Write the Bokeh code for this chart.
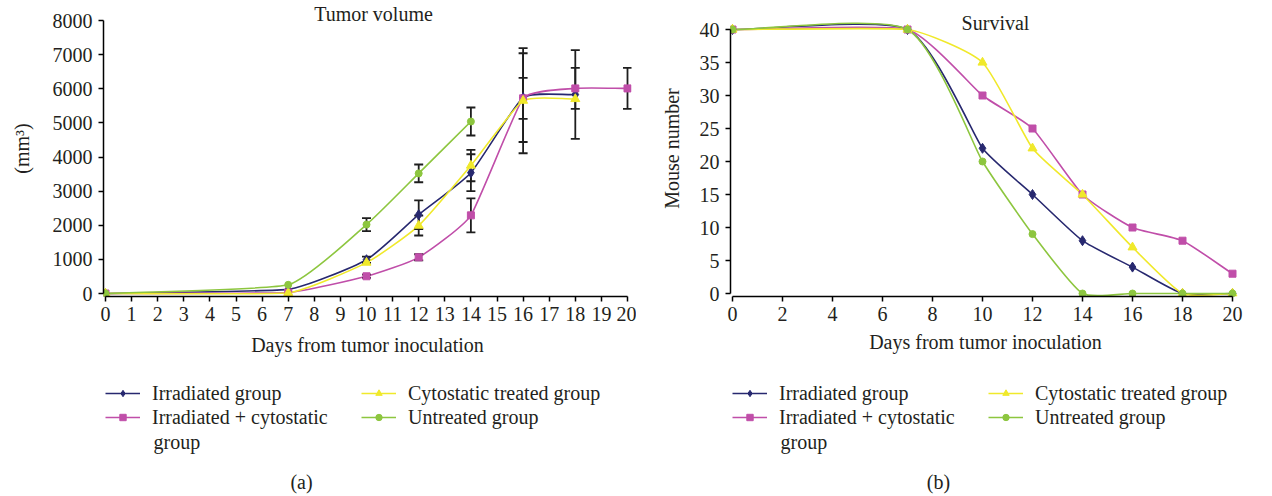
import math
from bokeh.plotting import figure
from bokeh.models import Range1d, FixedTicker, Legend, LegendItem, Label, ColumnDataSource
from bokeh.layouts import row, column
from bokeh.embed import file_html
from bokeh.resources import INLINE

FONT = "Liberation Serif"
FS = "20px"
TXT = "#231f20"

# ---------------- data ----------------
series_names = ["Irradiated group", "Irradiated + cytostatic",
                "Cytostatic treated group", "Untreated group"]
name_wrap = "group"   # second line of the wrapped "Irradiated + cytostatic group"
series_colors = ["#27286F", "#C04EA9", "#F0E92B", "#8DC63F"]
series_markers = ["diamond", "square", "triangle", "circle"]
marker_sizes = [10, 7, 9, 7]

# (a) Tumor volume (mm3)
tumor_days_irr = [0, 7, 10, 12, 14, 16, 18]
tumor_vol_irr = [0, 120, 990, 2310, 3540, 5740, 5830]
tumor_err_irr = [0, 0, 90, 420, 540, 1300, 1300]

tumor_days_comb = [0, 7, 10, 12, 14, 16, 18, 20]
tumor_vol_comb = [0, 30, 505, 1060, 2290, 5720, 6010, 6010]
tumor_err_comb = [0, 0, 50, 90, 500, 600, 600, 600]

tumor_days_cyto = [0, 7, 10, 12, 14, 16, 18]
tumor_vol_cyto = [0, 20, 905, 1990, 3750, 5650, 5700]
tumor_err_cyto = [0, 0, 0, 290, 460, 1540, 0]

tumor_days_untr = [0, 7, 10, 12, 14]
tumor_vol_untr = [0, 255, 2020, 3520, 5040]
tumor_err_untr = [0, 0, 190, 260, 410]

tumor_x_ticks = list(range(0, 21))
tumor_y_ticks = [0, 1000, 2000, 3000, 4000, 5000, 6000, 7000, 8000]

# (b) Survival (mouse number)
surv_days = [0, 7, 10, 12, 14, 16, 18, 20]
surv_irr = [40, 40, 22, 15, 8, 4, 0, 0]
surv_comb = [40, 40, 30, 25, 15, 10, 8, 3]
surv_cyto = [40, 40, 35, 22, 15, 7, 0, 0]
surv_untr = [40, 40, 20, 9, 0, 0, 0, 0]

surv_x_ticks = [0, 2, 4, 6, 8, 10, 12, 14, 16, 18, 20]
surv_y_ticks = [0, 5, 10, 15, 20, 25, 30, 35, 40]


def smooth_segments(xs, ys, kx, ky, f=0.2):
    """Bezier control points (Excel-like smoothed line) computed in pixel space."""
    px = [x * kx for x in xs]
    py = [y * ky for y in ys]
    n = len(px)
    seg = [math.hypot(px[i + 1] - px[i], py[i + 1] - py[i]) for i in range(n - 1)]
    ux, uy, ln = [], [], []
    for i in range(n):
        a, b = max(i - 1, 0), min(i + 1, n - 1)
        dx, dy = px[b] - px[a], py[b] - py[a]
        d = math.hypot(dx, dy) or 1.0
        ux.append(dx / d)
        uy.append(dy / d)
        near = [seg[j] for j in (i - 1, i) if 0 <= j < n - 1]
        ln.append(f * min(near))
    out = dict(x0=[], y0=[], x1=[], y1=[], cx0=[], cy0=[], cx1=[], cy1=[])
    for i in range(n - 1):
        out["x0"].append(xs[i]); out["y0"].append(ys[i])
        out["x1"].append(xs[i + 1]); out["y1"].append(ys[i + 1])
        out["cx0"].append((px[i] + ux[i] * ln[i]) / kx)
        out["cy0"].append((py[i] + uy[i] * ln[i]) / ky)
        out["cx1"].append((px[i + 1] - ux[i + 1] * ln[i + 1]) / kx)
        out["cy1"].append((py[i + 1] - uy[i + 1] * ln[i + 1]) / ky)
    return out


CH_H = 376      # chart figure height
LG_H = 496 - CH_H  # legend/caption figure height
FIG_W = 636


def make_chart(series, x_ticks, y_ticks, kx, ky, L, R, x0_px, ylabel,
               ylabel_standoff, xlabel_standoff, title, title_pos):
    H = 296          # frame from figure top to x axis
    B = CH_H - H
    W = FIG_W - L - R
    x_start = -(x0_px - L) / kx
    x_end = x_start + W / kx
    y_start = -(H - 293) / ky
    y_end = y_start + H / ky
    p = figure(width=FIG_W, height=CH_H, min_border_left=L, min_border_right=R,
               min_border_top=0, min_border_bottom=B,
               x_range=Range1d(x_start, x_end), y_range=Range1d(y_start, y_end),
               output_backend="svg", toolbar_location=None)
    p.outline_line_color = None
    p.grid.visible = False
    p.background_fill_color = "white"
    p.border_fill_color = "white"

    for ax in (p.xaxis[0], p.yaxis[0]):
        ax.axis_line_color = "black"
        ax.axis_line_width = 1.5
        ax.major_tick_line_color = "black"
        ax.major_tick_line_width = 1.5
        ax.major_tick_in = 0
        ax.major_tick_out = 5
        ax.minor_tick_line_color = None
        ax.major_label_text_font = FONT
        ax.major_label_text_font_size = FS
        ax.major_label_text_color = TXT
        ax.axis_label_text_font = FONT
        ax.axis_label_text_font_size = FS
        ax.axis_label_text_font_style = "normal"
        ax.axis_label_text_color = TXT
    p.xaxis.ticker = FixedTicker(ticks=x_ticks)
    p.yaxis.ticker = FixedTicker(ticks=y_ticks)
    p.xaxis.bounds = (x_ticks[0], x_ticks[-1])
    p.yaxis.bounds = (y_ticks[0], y_ticks[-1])
    p.xaxis.axis_label = "Days from tumor inoculation"
    p.yaxis.axis_label = ylabel
    p.xaxis.major_label_standoff = 5
    p.yaxis.major_label_standoff = 6
    p.xaxis.axis_label_standoff = xlabel_standoff
    p.yaxis.axis_label_standoff = ylabel_standoff

    for (xs, ys, errs), color in zip(series, series_colors):
        src = ColumnDataSource(smooth_segments(xs, ys, kx, ky))
        p.bezier(x0="x0", y0="y0", x1="x1", y1="y1", cx0="cx0", cy0="cy0",
                 cx1="cx1", cy1="cy1", source=src, line_color=color, line_width=1.6)
    for (xs, ys, errs), color in zip(series, series_colors):
        if errs is None:
            continue
        ex = [x for x, e in zip(xs, errs) if e > 0]
        lo = [y - e for y, e in zip(ys, errs) if e > 0]
        hi = [y + e for y, e in zip(ys, errs) if e > 0]
        if ex:
            p.segment(x0=ex, y0=lo, x1=ex, y1=hi, line_color="#1e1e1e", line_width=1.8)
            p.scatter(x=ex + ex, y=lo + hi, marker="dash", size=9,
                      line_color="#1e1e1e", line_width=1.8)
    for (xs, ys, errs), color, mk, ms in zip(series, series_colors, series_markers, marker_sizes):
        p.scatter(x=xs, y=ys, marker=mk, size=ms, fill_color=color,
                  line_color=color, line_width=1)

    p.add_layout(Label(x=title_pos[0], y=title_pos[1], x_units="screen", y_units="screen",
                       text=title, text_align="center", text_baseline="alphabetic",
                       text_font=FONT, text_font_size=FS, text_color=TXT))
    return p


def make_legend(series, caption, cap_x):
    # the frame of this figure is aligned (by the column layout) with the chart's frame;
    # its y range lies outside the data so the proxy renderers stay invisible
    lf = figure(width=FIG_W, height=LG_H, x_range=Range1d(0, 1), y_range=Range1d(-2, -1),
                min_border=0, x_axis_location=None, y_axis_location=None,
                output_backend="svg", toolbar_location=None)
    lf.outline_line_color = None
    lf.grid.visible = False
    items = []
    for (xs, ys, errs), name, color, mk, ms in zip(series, series_names, series_colors,
                                                  series_markers, marker_sizes):
        lr = lf.line(x=xs, y=ys, line_color=color, line_width=1.6)
        mr = lf.scatter(x=xs, y=ys, marker=mk, size=ms, fill_color=color, line_color=color)
        items.append(LegendItem(label=name, renderers=[lr, mr]))
    leg = Legend(items=items, location=(2, 67), ncols=2,
                 border_line_color=None, background_fill_alpha=0,
                 label_text_font=FONT, label_text_font_size=FS,
                 label_text_color=TXT,
                 glyph_width=35, glyph_height=16, label_height=24,
                 label_standoff=12, spacing=0, padding=0, margin=0,
                 label_width=209)
    lf.add_layout(leg)
    lf.add_layout(Label(x=50, y=55, x_units="screen", y_units="screen",
                        text=name_wrap, text_align="left", text_baseline="middle",
                        text_font=FONT, text_font_size=FS, text_color=TXT))
    lf.add_layout(Label(x=cap_x, y=15, x_units="screen", y_units="screen",
                        text=caption, text_align="center", text_baseline="middle",
                        text_font=FONT, text_font_size=FS, text_color=TXT))
    return lf


tumor_series = [
    (tumor_days_irr, tumor_vol_irr, tumor_err_irr),
    (tumor_days_comb, tumor_vol_comb, tumor_err_comb),
    (tumor_days_cyto, tumor_vol_cyto, tumor_err_cyto),
    (tumor_days_untr, tumor_vol_untr, tumor_err_untr),
]
surv_series = [
    (surv_days, surv_irr, None),
    (surv_days, surv_comb, None),
    (surv_days, surv_cyto, None),
    (surv_days, surv_untr, None),
]

p1 = make_chart(tumor_series, tumor_x_ticks, tumor_y_ticks,
                kx=26.1, ky=273 / 8000, L=103, R=5, x0_px=105,
                ylabel="(mm³)", ylabel_standoff=17, xlabel_standoff=10,
                title="Tumor volume", title_pos=(270, 283))
p2 = make_chart(surv_series, surv_x_ticks, surv_y_ticks,
                kx=25.0, ky=6.6, L=94, R=32, x0_px=96,
                ylabel="Mouse number", ylabel_standoff=14, xlabel_standoff=7,
                title="Survival", title_pos=(265, 274))
l1 = make_legend(tumor_series, "(a)", 198)
l2 = make_legend(surv_series, "(b)", 208)

layout = row(column(p1, l1), column(p2, l2))
open("out.html", "w").write(file_html(layout, INLINE))
